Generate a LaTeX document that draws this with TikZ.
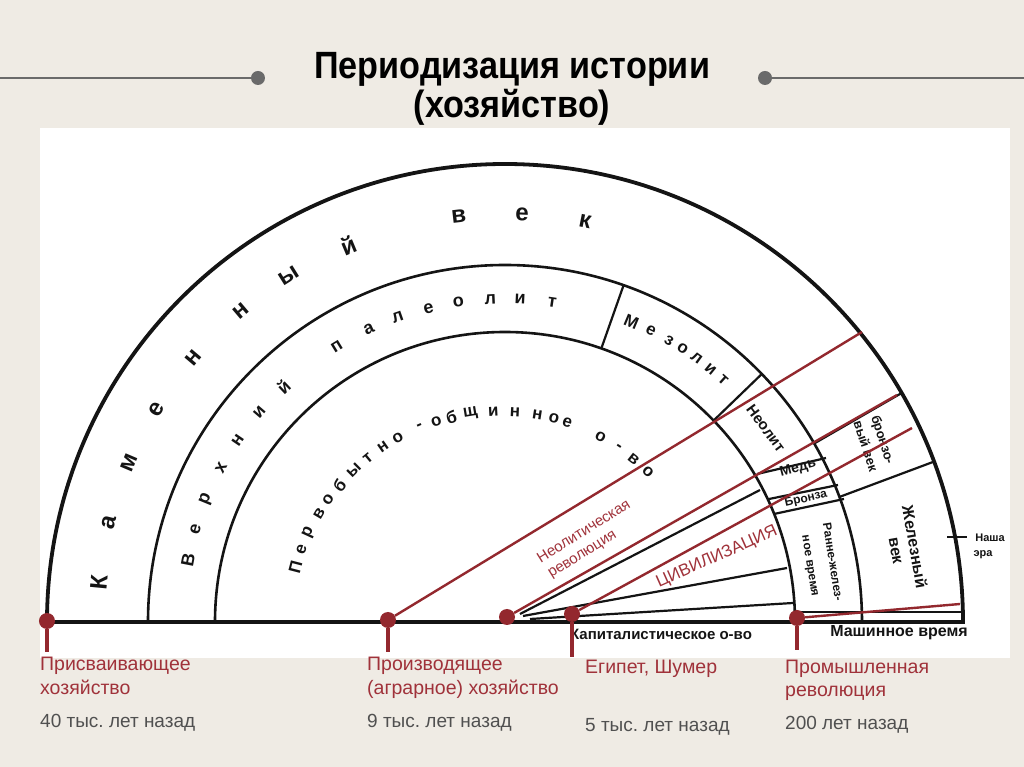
\documentclass[tikz,border=0pt]{standalone}
\usepackage{fontspec}
\setmainfont{Liberation Sans}
\newfontfamily\titlefont[FakeStretch=0.9]{Liberation Sans}
\newfontfamily\dgfont{Liberation Sans}
\definecolor{bgc}{HTML}{EFEBE4}
\definecolor{redl}{HTML}{93282E}
\definecolor{redt}{HTML}{A0323A}
\definecolor{grayt}{HTML}{505050}
\definecolor{ink}{HTML}{141414}
\definecolor{tline}{HTML}{6A6A6A}
\frenchspacing
\begin{document}
\begin{tikzpicture}[x=1pt,y=1pt,
  band/.style={draw=ink,line width=2.6pt},
  outerarc/.style={draw=ink,line width=3.8pt},
  sep/.style={draw=ink,line width=2.2pt},
  kv/.style={font=\dgfont\bfseries\fontsize{24}{24}\selectfont,text=ink,inner sep=0pt},
  vp/.style={font=\dgfont\bfseries\fontsize{18}{18}\selectfont,text=ink,inner sep=0pt},
  po/.style={font=\dgfont\bfseries\fontsize{17}{17}\selectfont,text=ink,inner sep=0pt},
  dtxt/.style={font=\dgfont\bfseries\fontsize{#1}{#1}\selectfont,text=ink,inner sep=0pt,align=center},
  redline/.style={draw=redl,line width=2.4pt},
  stub/.style={draw=redl,line width=4pt},
  rdot/.style={circle,fill=redl,minimum size=16pt,inner sep=0pt},
  lab/.style={font=\fontsize{19.5}{19.5}\selectfont,text=redt,inner sep=0pt,anchor=base west},
  glab/.style={font=\fontsize{19}{19}\selectfont,text=grayt,inner sep=0pt,anchor=base west},
  rtext/.style={font=\fontsize{#1}{#1}\selectfont,text=redt,inner sep=0pt},
  titletxt/.style={font=\titlefont\bfseries\fontsize{38}{38}\selectfont,inner sep=0pt,anchor=base},
  tdot/.style={circle,fill=tline,minimum size=14pt,inner sep=0pt},
]
\useasboundingbox (-505,-145) rectangle (519,622);
\fill[bgc] (-505,-145) rectangle (519,622);
\fill[white] (-465,-36) rectangle (505,494);

% title
\node[tdot] (tl) at (-247,544) {};
\node[tdot] (tr) at (260,544) {};
\coordinate (tl0) at (-505,544);
\coordinate (tr0) at (519,544);
\draw[tline,line width=2.5pt] (tl0) -- (tl);
\draw[tline,line width=2.5pt] (tr) -- (tr0);
\node[titletxt] (t1) at (7,543) {Периодизация истории};
\node[titletxt] (t2) at (7,504) {(хозяйство)};

% arcs and baseline
\draw[outerarc] (458,0) arc[start angle=0,end angle=180,radius=458];
\draw[band] (357,0) arc[start angle=0,end angle=180,radius=357];
\draw[band] (290,0) arc[start angle=0,end angle=180,radius=290];
\draw[ink,line width=3.5pt] (-462,0) -- (460,0);

% separators
\draw[sep] (70.6:290) -- (70.6:357);
\draw[sep] (44:290) -- (44:357);
\draw[sep] (30:357) -- (30:458);
\draw[sep] (20.5:357) -- (20.5:458);
\draw[sep] (252,148) -- (321,164);
\draw[sep] (264,123) -- (333,137);
\draw[sep] (269,108) -- (339,123);
\draw[sep] (288,10) -- (457,10);
\draw[sep] (15,8) -- (255,132);
\draw[sep] (18,6) -- (282,54);
\draw[sep] (25,3) -- (288,19);
\draw[ink,line width=2.4pt] (442,85) -- (462,85);

% Каменный век
\foreach \a/\l [count=\i] in {174.5/К,165.9/а,157/м,148.6/е,139.7/н,130.3/н,122/ы,112.6/й,96.5/в,87.6/е,78.7/к}
  \node[kv,rotate=\a-90] (kv\i) at (\a:408) {\l};
% Верхний палеолит
\foreach \a/\l [count=\i] in {169/В,163.4/е,157.7/р,151.5/х,145.8/н,139.5/и,133.3/й,121.4/п,114.9/а,109.4/л,103.7/е,98.3/о,92.6/л,87.3/и,81.6/т}
  \node[vp,rotate=\a-90] (vp\i) at (\a:323) {\l};
% Первобытно-общинное о-во
\foreach \a/\l [count=\i] in {165.4/П,160.4/е,155.5/р,149.7/в,145.4/о,140.5/б,134.9/ы,129.9/т,124.9/н,120.2/о,113.6/-,108.9/о,104.7/б,99.4/щ,93.2/и,87.3/н,81.1/н,76.5/о,72.7/е,62.7/о,57/-,51.7/в,46.3/о}
  \node[po,rotate=\a-90] (po\i) at ({\a}:{207+0.08*(\a-46)}) {\l};
% Мезолит
\foreach \a/\l [count=\i] in {67.2/М,63.4/е,59.8/з,57/о,54/л,50.9/и,48/т}
  \node[po,rotate=\a-90] (mz\i) at (\a:326) {\l};

\node[dtxt=15,rotate=-53.4] (neo) at (36.6:325) {Неолит};
\node[dtxt=14,rotate=15] (med) at (293,154) {Медь};
\node[dtxt=12,rotate=13] (bro) at (301,123) {Бронза};
\node[dtxt=13,rotate=-72] (bvek1) at (377,182) {бронзо-};
\node[dtxt=13,rotate=-72] (bvek2) at (361,176) {вый век};
\node[dtxt=16,rotate=-80] (zvek1) at (410,75) {Железный};
\node[dtxt=16,rotate=-80] (zvek2) at (390,71) {век};
\node[dtxt=12,rotate=-81] (rzh1) at (328,60) {Ранне-желез-};
\node[dtxt=12,rotate=-81] (rzh2) at (304,56) {ное время};
\node[dtxt=11] (nera1) at (485,84) {Наша};
\node[dtxt=11] (nera2) at (478,67) {эра};
\node[dtxt=15] (kap) at (156,-12) {Капиталистическое о-во};
\node[dtxt=16] (mash) at (394,-11) {Машинное время};

% red lines and dots
\node[rdot] (d1) at (-458,1) {};
\node[rdot] (d2) at (-117,2) {};
\node[rdot] (d3) at (2,5) {};
\node[rdot] (d4) at (67,8) {};
\node[rdot] (d5) at (292,4) {};
\coordinate (e2) at (357,290);
\coordinate (e3) at (392,227);
\coordinate (e4) at (407,194);
\coordinate (e5) at (455,18);
\coordinate (s1) at (-458,-30);
\coordinate (s2) at (-117,-30);
\coordinate (s4) at (67,-35);
\coordinate (s5) at (292,-28);
\draw[redline] (d2) -- (e2);
\draw[redline] (d3) -- (e3);
\draw[redline] (d4) -- (e4);
\draw[redline] (d5) -- (e5);
\draw[stub] (d1) -- (s1);
\draw[stub] (d2) -- (s2);
\draw[stub] (d4) -- (s4);
\draw[stub] (d5) -- (s5);

\node[rtext=15,rotate=32,anchor=west] (neorev1) at (33,63) {Неолитическая};
\node[rtext=15,rotate=32,anchor=west] (neorev2) at (45,46) {революция};
\node[rtext=17,rotate=24] (civ) at (212,65) {ЦИВИЛИЗАЦИЯ};

% labels
\node[lab] (a1) at (-465,-49) {Присваивающее};
\node[lab] (a2) at (-465,-73) {хозяйство};
\node[glab] (a3) at (-465,-105) {40 тыс. лет назад};
\node[lab] (b1) at (-138,-49) {Производящее};
\node[lab] (b2) at (-138,-73) {(аграрное) хозяйство};
\node[glab] (b3) at (-138,-105) {9 тыс. лет назад};
\node[lab] (c1) at (80,-52) {Египет, Шумер};
\node[glab] (c3) at (80,-109) {5 тыс. лет назад};
\node[lab] (f1) at (280,-52) {Промышленная};
\node[lab] (f2) at (280,-75) {революция};
\node[glab] (f3) at (280,-107) {200 лет назад};
\end{tikzpicture}
\end{document}
